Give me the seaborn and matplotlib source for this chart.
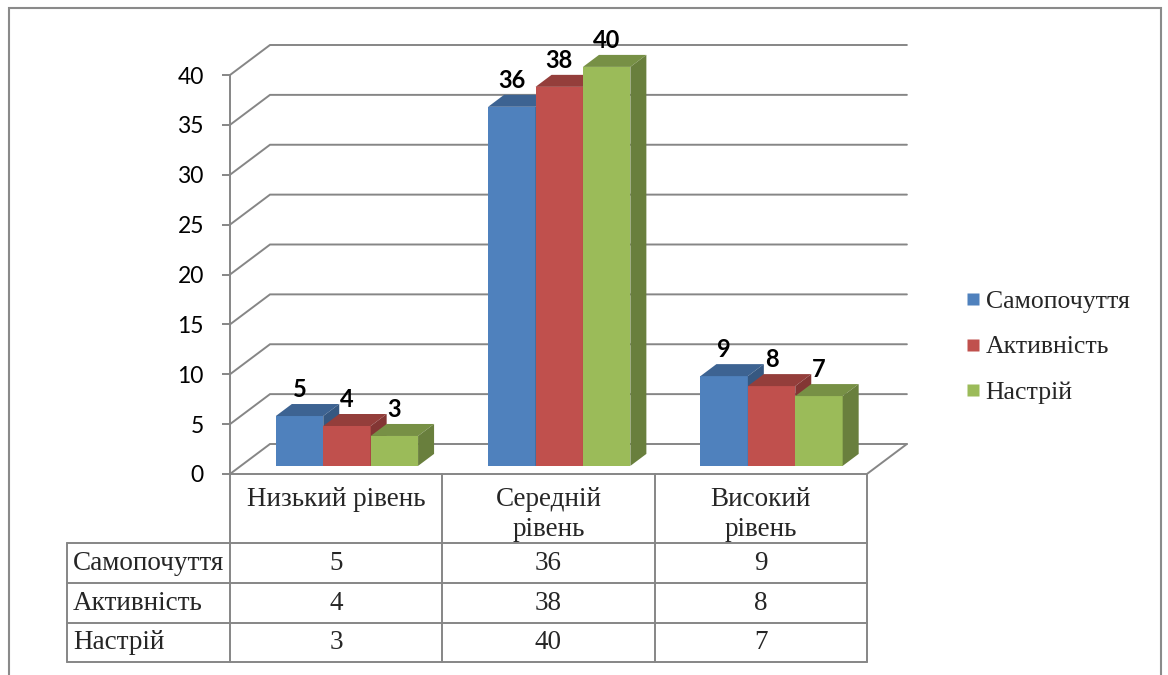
import numpy as np
import pandas as pd
import matplotlib
matplotlib.use("Agg")
import matplotlib.pyplot as plt
import seaborn as sns
from matplotlib.patches import Polygon, Rectangle
from matplotlib.lines import Line2D

# ---- data -------------------------------------------------------------
levels = ["Низький рівень", "Середній рівень", "Високий рівень"]
level_headers = ["Низький рівень", "Середній\nрівень", "Високий\nрівень"]
series = ["Самопочуття", "Активність", "Настрій"]
samopochuttia = [5, 36, 9]
aktyvnist = [4, 38, 8]
nastrii = [3, 40, 7]
yticks = [0, 5, 10, 15, 20, 25, 30, 35, 40]
colors = ["#4F81BD", "#C0504D", "#9BBB59"]

series_values = [samopochuttia, aktyvnist, nastrii]
df = pd.DataFrame(
    [(lvl, s, vals[j]) for s, vals in zip(series, series_values)
     for j, lvl in enumerate(levels)],
    columns=["level", "series", "value"],
)

# ---- style ------------------------------------------------------------
sns.set_theme(style="white")
plt.rcParams["font.family"] = ["Liberation Serif", "DejaVu Serif"]

GRAY = "#868686"
W, H = 1168, 675
fig = plt.figure(figsize=(W / 100, H / 100), dpi=100)
ax = fig.add_axes([0, 0, 1, 1])

# pixel scale of the front plane: one category column and one value unit
PX_CAT = 212.3
PX_VAL = 9.975
FRONT_X = 230      # pixel column of the front value axis
ZERO_Y = 474       # pixel row of the value 0 on the front plane


def dxp(px):
    return px / PX_CAT


def dyp(px):
    return px / PX_VAL


def row_y(px):
    return (ZERO_Y - px) / PX_VAL


ncat = len(levels)
left, right = -0.5, ncat - 0.5
DX, DY = dxp(40), dyp(30)          # full depth of the 3-D box
T0, T1 = 0.27, 0.67                # depth slab occupied by the columns


def shade(c, f):
    r, g, b = matplotlib.colors.to_rgb(c)
    return (r * f, g * f, b * f)


# ---- columns ----------------------------------------------------------
sns.barplot(data=df, x="level", y="value", hue="series", order=levels,
            hue_order=series, palette=colors, saturation=1, width=0.67,
            errorbar=None, linewidth=0, legend=False, ax=ax)

bars = sorted(ax.patches, key=lambda p: p.get_x())
for k, p in enumerate(bars):
    s_idx = k % len(series)
    c_idx = k // len(series)
    val = series_values[s_idx][c_idx]
    x0, w = p.get_x(), p.get_width()
    z = 3 + k * 0.01
    fx, fy = x0 + T0 * DX, T0 * DY
    bx, by = x0 + T1 * DX, T1 * DY
    p.set_x(fx)
    p.set_y(fy)
    p.set_height(val)
    p.set_zorder(z)
    col = colors[s_idx]
    top = Polygon([(fx, val + fy), (fx + w, val + fy),
                   (bx + w, val + by), (bx, val + by)],
                  closed=True, facecolor=shade(col, 0.77), edgecolor="none",
                  zorder=z + 0.001)
    side = Polygon([(fx + w, fy), (bx + w, by),
                    (bx + w, val + by), (fx + w, val + fy)],
                   closed=True, facecolor=shade(col, 0.68), edgecolor="none",
                   zorder=z + 0.001)
    ax.add_patch(top)
    ax.add_patch(side)
    ax.text(fx + w / 2, val + fy + dyp(26.5), str(val), ha="center",
            va="center", fontsize=17, fontweight="bold", family="Lato",
            color="black", zorder=10)

# ---- back wall gridlines and floor -----------------------------------
for v in yticks:
    ax.plot([left, left + DX, right + DX], [v, v + DY, v + DY],
            color=GRAY, lw=1.4, zorder=1, solid_joinstyle="miter")
ax.plot([left, right, right + DX], [0, 0, DY], color=GRAY, lw=1.4, zorder=1)

# ---- value axis on the front plane ------------------------------------
for name in ["top", "right", "bottom"]:
    ax.spines[name].set_visible(False)
ax.spines["left"].set_position(("data", left))
ax.spines["left"].set_bounds(yticks[0], yticks[-1])
ax.spines["left"].set_color(GRAY)
ax.spines["left"].set_linewidth(1.4)
ax.set_yticks(yticks)
ax.set_yticklabels([str(t) for t in yticks])
ax.tick_params(axis="y", direction="out", length=5.8, width=1.4, color=GRAY,
               pad=13, labelsize=16.5, labelfontfamily="Lato",
               labelcolor="black", left=True)
ax.set_xticks([])
ax.set_xlabel("")
ax.set_ylabel("")
ax.grid(False)

ax.set_xlim(left - dxp(FRONT_X), left + dxp(W - FRONT_X))
ax.set_ylim(row_y(H), row_y(0))

# ---- data table -------------------------------------------------------
rows_px = [ZERO_Y, 543, 583, 623, 662]
rows = [row_y(r) for r in rows_px]
label_left = left - dxp(FRONT_X - 67)
for xc in np.arange(left, right + 1):
    ax.plot([xc, xc], [0, rows[-1]], color=GRAY, lw=1.4, zorder=1)
for yr in rows[1:]:
    ax.plot([label_left, right], [yr, yr], color=GRAY, lw=1.4, zorder=1)
ax.plot([label_left, label_left], [rows[1], rows[-1]], color=GRAY, lw=1.4,
        zorder=1)

TABLE_FS = 19.5
for j, hdr in enumerate(level_headers):
    ax.text(j, row_y(487), hdr, ha="center", va="top", fontsize=TABLE_FS,
            linespacing=1.25, multialignment="center")

for i, (s, vals) in enumerate(zip(series, series_values)):
    yc = (rows[i + 1] + rows[i + 2]) / 2
    ax.text(left - dxp(FRONT_X - 73), yc, s, ha="left", va="center",
            fontsize=TABLE_FS)
    for j, v in enumerate(vals):
        ax.text(j, yc, str(v), ha="center", va="center", fontsize=TABLE_FS)

# ---- legend -----------------------------------------------------------
handles = [Line2D([], [], marker="s", linestyle="", markersize=8.6,
                  markerfacecolor=c, markeredgecolor="none") for c in colors]
ax.legend(handles, series, loc="center left",
          bbox_to_anchor=(965 / W, 1 - 347 / H), bbox_transform=fig.transFigure,
          frameon=False, fontsize=18.5, handlelength=0.6, handletextpad=0.2,
          labelspacing=0.89, borderpad=0, borderaxespad=0)

# ---- outer frame ------------------------------------------------------
fig.add_artist(Rectangle((8.5 / W, -0.1), (1161 - 8.5) / W,
                         1.1 - 8.5 / H, transform=fig.transFigure,
                         fill=False, edgecolor="#8a8a8a", linewidth=1.5))

fig.savefig("out.png", dpi=100, facecolor="white")
